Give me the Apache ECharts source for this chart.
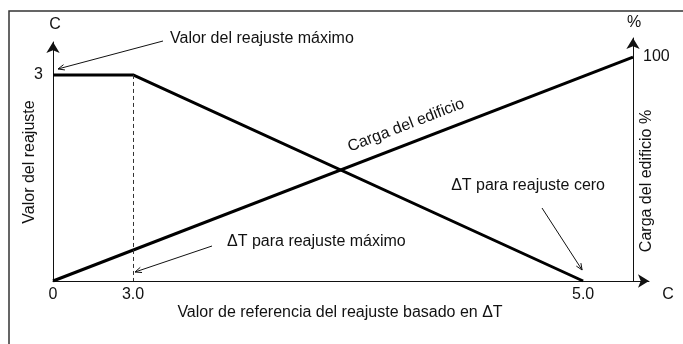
<!DOCTYPE html>
<html>
<head>
<meta charset="utf-8">
<script src="https://cdn.jsdelivr.net/npm/echarts@6/dist/echarts.min.js"></script>
<style>
  html, body { margin: 0; padding: 0; background: #fff; }
  #chart { width: 683px; height: 344px; }
</style>
</head>
<body>
<div id="chart"></div>
<script>
// eje X esquemático (no está a escala): posición de cada marca y su texto
const xPos = [0, 1.38, 9.14];
const xTickLabels = ['0', '3.0', '5.0'];
// valor del reajuste (C)
const reajusteX = [0, 1.38, 9.14];
const reajusteY = [3, 3, 0];
// carga del edificio (%)
const cargaX = [0, 10];
const cargaY = [0, 100];
// marcas de los ejes verticales
const yLeftTicks = [3];
const yRightTicks = [100];

const font = '"Liberation Sans", Arial, Helvetica, sans-serif';
const ink = '#111';
const fs = 16;

const arrowLine = {
  show: true,
  onZero: false,
  lineStyle: { color: ink, width: 1 },
  symbol: ['none', 'arrow'],
  symbolSize: [10, 11]
};

function labelOf(vals, labels) {
  return function (v) {
    for (let i = 0; i < vals.length; i++) {
      if (Math.abs(vals[i] - v) < 1e-6) return labels[i];
    }
    return '';
  };
}

const chart = echarts.init(document.getElementById('chart'));

const option = {
  backgroundColor: '#fff',
  animation: false,
  grid: [
    { left: 53, right: 34, top: 42, bottom: 63 },
    { left: 53, right: 50, top: 38, bottom: 63 }
  ],
  xAxis: [
    {
      gridIndex: 0, type: 'value', min: 0, max: 10.276,
      axisLine: arrowLine,
      axisTick: { show: false },
      splitLine: { show: false },
      axisLabel: {
        customValues: xPos,
        formatter: labelOf(xPos, xTickLabels),
        color: ink, fontSize: fs, fontFamily: font, margin: 6
      }
    },
    { gridIndex: 1, type: 'value', min: 0, max: 10, show: false }
  ],
  yAxis: [
    {
      gridIndex: 0, type: 'value', min: 0, max: 3.48,
      axisLine: arrowLine,
      axisTick: { show: false },
      splitLine: { show: false },
      axisLabel: {
        customValues: yLeftTicks,
        color: ink, fontSize: fs, fontFamily: font, margin: 10
      }
    },
    {
      gridIndex: 1, type: 'value', min: 0, max: 108.5, position: 'right',
      axisLine: arrowLine,
      axisTick: { show: false },
      splitLine: { show: false },
      axisLabel: {
        customValues: yRightTicks,
        color: ink, fontSize: fs, fontFamily: font, margin: 10
      }
    }
  ],
  series: [
    {
      name: 'Valor del reajuste',
      type: 'line',
      xAxisIndex: 0, yAxisIndex: 0,
      data: reajusteX.map((x, i) => [x, reajusteY[i]]),
      symbol: 'none',
      lineStyle: { color: '#000', width: 3 },
      markLine: {
        silent: true,
        symbol: 'none',
        label: { show: false },
        lineStyle: { type: [4, 3], color: '#333', width: 1 },
        data: [[
          { coord: [reajusteX[1], reajusteY[1]] },
          { coord: [reajusteX[1], 0] }
        ]]
      }
    },
    {
      name: 'Carga del edificio',
      type: 'line',
      xAxisIndex: 1, yAxisIndex: 1,
      data: cargaX.map((x, i) => [x, cargaY[i]]),
      symbol: 'none',
      lineStyle: { color: '#000', width: 3 }
    }
  ]
};
chart.setOption(option);

// anotaciones: flechas finas y textos
function px(ai, v) {
  return chart.convertToPixel({ xAxisIndex: ai, yAxisIndex: ai }, v);
}
function arrow(from, to) {
  const a = Math.atan2(to[1] - from[1], to[0] - from[0]);
  const L = 7, w = 0.4;
  return {
    type: 'group',
    children: [
      { type: 'line', shape: { x1: from[0], y1: from[1], x2: to[0], y2: to[1] },
        style: { stroke: ink, lineWidth: 1 } },
      { type: 'polyline', shape: { points: [
          [to[0] - L * Math.cos(a - w), to[1] - L * Math.sin(a - w)],
          [to[0], to[1]],
          [to[0] - L * Math.cos(a + w), to[1] - L * Math.sin(a + w)]
        ] }, style: { stroke: ink, lineWidth: 1, fill: null } }
    ]
  };
}
function txt(text, x, y, align, rot) {
  return {
    type: 'text', x: x, y: y, rotation: rot || 0,
    style: { text: text, fill: ink, font: fs + 'px ' + font,
      align: align || 'center', verticalAlign: 'middle' }
  };
}

const pMax = px(0, [reajusteX[0], reajusteY[0]]);
const pKnee = px(0, [reajusteX[1], 0]);
const pZero = px(0, [reajusteX[2], reajusteY[2]]);
const c0 = px(1, [cargaX[0], cargaY[0]]);
const c1 = px(1, [cargaX[1], cargaY[1]]);
const ang = Math.atan2(c0[1] - c1[1], c1[0] - c0[0]);
const t = 0.62, off = 18;
const lx = c0[0] + (c1[0] - c0[0]) * t - Math.sin(ang) * off;
const ly = c0[1] + (c1[1] - c0[1]) * t - Math.cos(ang) * off;

chart.setOption({
  graphic: [
    { type: 'rect', z: -1, shape: { x: 9, y: 11, width: 720, height: 400 },
      style: { stroke: '#333', lineWidth: 1.5, fill: null } },
    arrow([163, 41], [pMax[0] + 5, pMax[1] - 6]),
    arrow([212, 246], [pKnee[0] + 2, pKnee[1] - 9]),
    arrow([542, 208], [pZero[0] - 1, pZero[1] - 11]),
    txt('Valor del reajuste máximo', 170, 39, 'left'),
    txt('\u0394T para reajuste máximo', 227, 242, 'left'),
    txt('\u0394T para reajuste cero', 605, 186, 'right'),
    txt('Carga del edificio', lx, ly, 'center', ang),
    txt('Valor del reajuste', 30, 162, 'center', Math.PI / 2),
    txt('Carga del edificio %', 647, 181, 'center', Math.PI / 2),
    txt('Valor de referencia del reajuste basado en \u0394T', 340, 313, 'center'),
    txt('C', 55, 25),
    txt('%', 634, 23),
    txt('C', 668, 295)
  ]
});
</script>
</body>
</html>
